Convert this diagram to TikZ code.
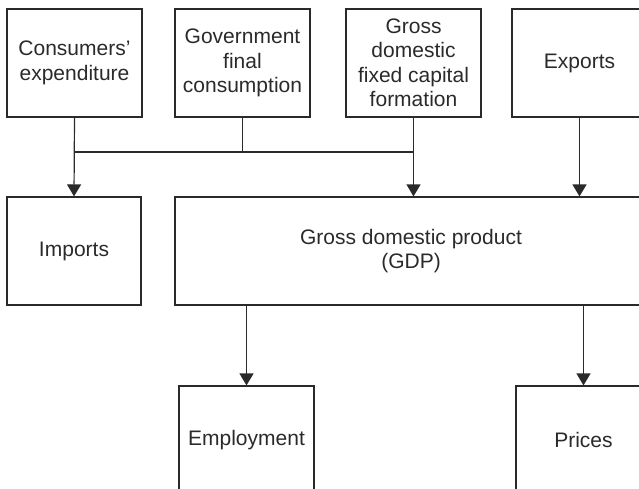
\documentclass[tikz,border=0pt]{standalone}
\usepackage{fontspec}
\setmainfont{Liberation Sans}
\usetikzlibrary{arrows.meta}
\definecolor{ink}{HTML}{2A2A2A}
\tikzset{
  box/.style={draw=ink, line width=1.2pt, rectangle, minimum width=135pt, minimum height=108pt,
    inner sep=0pt, align=center, text=ink, font=\fontsize{21}{24.5}\selectfont},
  conn/.style={draw=ink, line width=1.2pt},
  arr/.style={conn, -{Triangle[width=14pt,length=12pt]}}
}
\begin{document}
\begin{tikzpicture}[x=1pt,y=-1pt]
\useasboundingbox (0,0) rectangle (639,489);
\clip (0,0) rectangle (639,489);
\node[box] (cons) at (74.5,63) {Consumers’\\expenditure};
\node[box] (gov) at (242.5,63) {Government\\final\\consumption};
\node[box] (gross) at (413.5,63) {Gross\\domestic\\fixed capital\\formation};
\node[box] (exp) at (579.5,63) {Exports};
\node[box, minimum width=134pt] (imp) at (74,251) {Imports};
\node[box, minimum width=472pt] (gdp) at (411,251) {Gross domestic product\\(GDP)};
\node[box] (emp) at (246.5,440) {Employment};
\node[box] (pri) at (583.5,440) {Prices};
\coordinate (j1) at (74.5,152);
\coordinate (j2) at (242.5,152);
\coordinate (j3) at (413.5,152);
\draw[conn] (j1) -- (j3);
\draw[conn] (gov.south) -- (j2);
\draw[arr] (cons.south) -- (imp.north);
\draw[arr] (gross.south) -- (gross.south |- gdp.north);
\draw[arr] (exp.south) -- (exp.south |- gdp.north);
\draw[arr] (emp.north |- gdp.south) -- (emp.north);
\draw[arr] (pri.north |- gdp.south) -- (pri.north);
\end{tikzpicture}
\end{document}
